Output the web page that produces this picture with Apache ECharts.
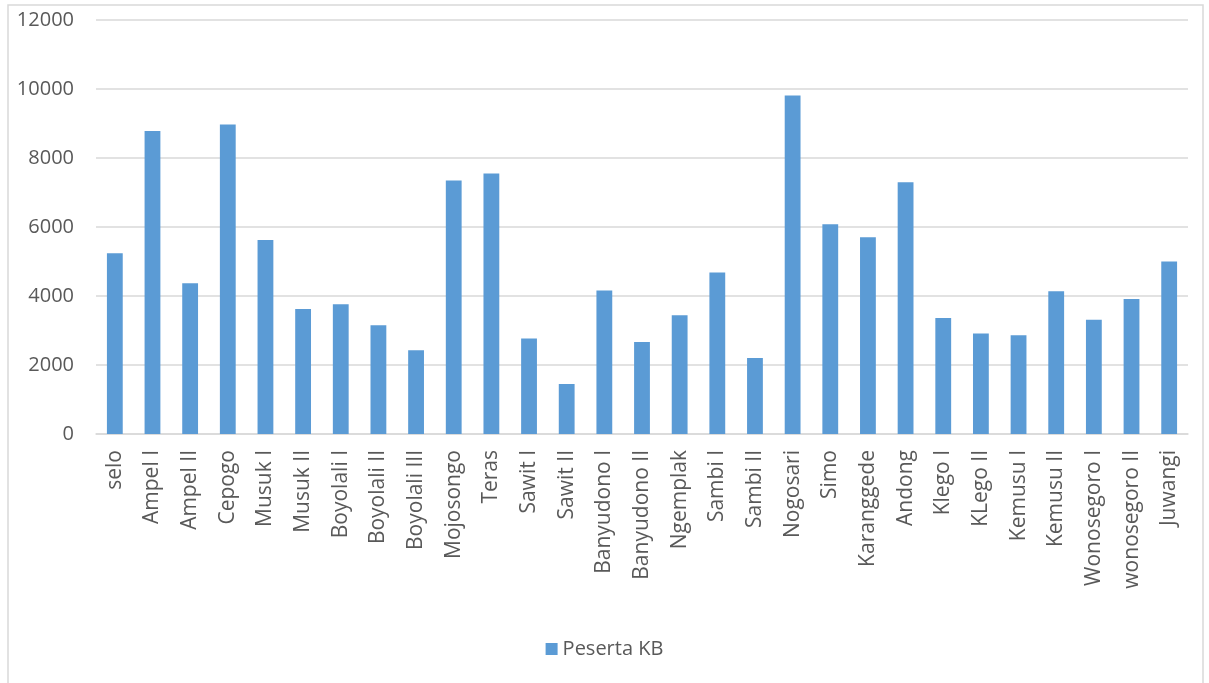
<!DOCTYPE html>
<html>
<head>
<meta charset="utf-8">
<script src="https://cdn.jsdelivr.net/npm/echarts@6/dist/echarts.min.js"></script>
<style>
  html, body { margin: 0; padding: 0; background: #fff; }
  #chart { width: 1209px; height: 683px; }
</style>
</head>
<body>
<div id="chart"></div>
<script>
const categories = [
  'selo', 'Ampel I', 'Ampel II', 'Cepogo', 'Musuk I', 'Musuk II',
  'Boyolali I', 'Boyolali II', 'Boyolali III', 'Mojosongo', 'Teras',
  'Sawit I', 'Sawit II', 'Banyudono I', 'Banyudono II', 'Ngemplak',
  'Sambi I', 'Sambi II', 'Nogosari', 'Simo', 'Karanggede', 'Andong',
  'Klego I', 'KLego II', 'Kemusu I', 'Kemusu II', 'Wonosegoro I',
  'wonosegoro II', 'Juwangi'
]
const pesertaKB = [
  5240, 8780, 4370, 8970, 5620, 3620,
  3760, 3150, 2430, 7350, 7550,
  2770, 1450, 4160, 2670, 3440,
  4680, 2200, 9810, 6080, 5700, 7300,
  3360, 2910, 2860, 4140, 3310,
  3910, 5000
]
const yTicks = { min: 0, max: 12000, interval: 2000 }

const fontFamily = '"Open Sans", sans-serif'
const textColor = '#595959'
const lineColor = '#d9d9d9'

const chart = echarts.init(document.getElementById('chart'), null, { renderer: 'canvas' })

chart.setOption({
  animation: false,
  backgroundColor: '#fff',
  graphic: [
    {
      type: 'rect',
      shape: { x: 8, y: 5, width: 1195, height: 690 },
      style: { fill: 'none', stroke: lineColor, lineWidth: 1.5 },
      silent: true,
    },
  ],
  grid: { left: 96, right: 21, top: 20, bottom: 249, containLabel: false },
  legend: {
    data: ['Peserta KB'],
    left: 'center',
    top: 634,
    itemWidth: 12,
    itemHeight: 12,
    itemGap: 6,
    icon: 'rect',
    textStyle: { color: textColor, fontFamily, fontSize: 20 },
  },
  xAxis: {
    type: 'category',
    data: categories,
    axisLine: { show: true, lineStyle: { color: lineColor, width: 1.5 } },
    axisTick: { show: false },
    axisLabel: {
      rotate: 90,
      interval: 0,
      margin: 16,
      color: textColor,
      fontFamily,
      fontSize: 21,
    },
  },
  yAxis: {
    type: 'value',
    min: yTicks.min,
    max: yTicks.max,
    interval: yTicks.interval,
    axisLine: { show: false },
    axisTick: { show: false },
    splitLine: { lineStyle: { color: lineColor, width: 1.5 } },
    axisLabel: {
      margin: 22,
      color: textColor,
      fontFamily,
      fontSize: 20,
      formatter: (v) => String(v),
    },
  },
  series: [
    {
      name: 'Peserta KB',
      type: 'bar',
      data: pesertaKB,
      barWidth: '42%',
      itemStyle: { color: '#5b9bd5' },
    },
  ],
})
</script>
</body>
</html>
